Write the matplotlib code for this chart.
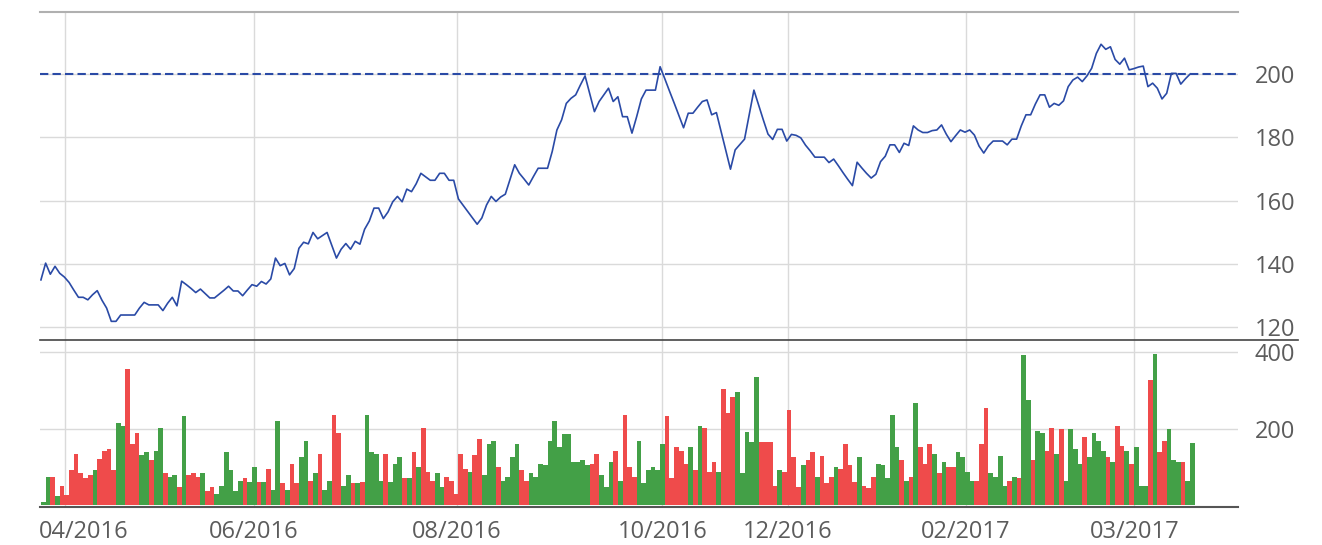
import numpy as np
import matplotlib
matplotlib.use("Agg")
import matplotlib.pyplot as plt
from matplotlib.lines import Line2D
from matplotlib.transforms import ScaledTranslation

plt.rcParams['font.family'] = ['Open Sans', 'DejaVu Sans']

# daily close, one value per trading day
close = [
    134.9, 140.2, 136.7, 139.2, 137.0, 135.8, 134.1, 131.7, 129.4, 129.4,
    128.6, 130.2, 131.5, 128.5, 126.0, 121.8, 121.8, 123.8, 123.8, 123.8,
    123.8, 126.0, 127.8, 127.0, 127.0, 127.0, 125.2, 127.5, 129.4, 126.7,
    134.5, 133.4, 132.2, 130.9, 132.0, 130.6, 129.2, 129.2, 130.4, 131.6,
    132.9, 131.4, 131.4, 129.9, 131.7, 133.4, 132.9, 134.4, 133.6, 135.2,
    141.8, 139.4, 140.1, 136.5, 138.5, 144.9, 146.8, 146.3, 149.9, 147.9,
    148.9, 149.9, 145.8, 141.8, 144.6, 146.4, 144.6, 147.1, 146.2, 150.9,
    153.5, 157.6, 157.6, 154.3, 156.4, 159.6, 161.3, 159.6, 163.6, 162.8,
    165.3, 168.6, 167.5, 166.4, 166.4, 168.6, 168.6, 166.4, 166.4, 160.5,
    158.5, 156.5, 154.5, 152.5, 154.5, 158.6, 161.3, 159.7, 161.1, 162.0,
    166.6, 171.3, 168.6, 166.8, 164.9, 167.6, 170.2, 170.2, 170.2, 175.5,
    182.3, 185.5, 190.7, 192.3, 193.4, 196.5, 199.4, 193.8, 188.1, 191.3,
    193.4, 195.5, 191.3, 192.8, 186.5, 186.5, 181.3, 186.5, 192.1, 194.9,
    194.9, 194.9, 202.3, 198.5, 194.6, 190.8, 186.9, 183.0, 187.6, 187.6,
    189.5, 191.3, 191.8, 187.1, 187.8, 181.8, 175.8, 169.9, 176.0, 177.7,
    179.4, 187.2, 194.9, 190.2, 185.5, 181.0, 179.3, 182.5, 182.5, 178.8,
    180.9, 180.6, 179.8, 177.5, 175.7, 173.7, 173.7, 173.7, 172.0, 173.1,
    171.0, 168.8, 166.7, 164.7, 172.1, 170.3, 168.6, 167.1, 168.3, 172.3,
    174.0, 177.6, 177.6, 175.2, 178.1, 177.4, 183.6, 182.3, 181.5, 181.5,
    182.1, 182.3, 183.9, 181.0, 178.6, 180.5, 182.3, 181.6, 182.3, 180.7,
    177.2, 175.0, 177.3, 178.8, 178.8, 178.8, 177.6, 179.4, 179.4, 183.6,
    187.1, 187.1, 190.5, 193.4, 193.4, 189.5, 190.7, 190.1, 191.5, 196.0,
    198.1, 199.0, 197.6, 199.4, 201.8, 206.5, 209.4, 207.8, 208.6, 204.6,
    203.1, 205.0, 201.3, 201.7, 202.2, 202.5, 196.0, 197.1, 195.5, 192.1,
    193.9, 200.2, 200.2, 196.8, 198.5, 200.0,
]

volume = [
    10, 73, 73, 24, 52, 26, 92, 134, 84, 71, 79, 92, 120, 141, 147, 92, 215, 207, 356, 160,
    189, 131, 139, 118, 141, 202, 84, 73, 79, 47, 233, 79, 84, 73, 84, 37, 47, 31, 52, 139,
    92, 37, 65, 71, 60, 100, 60, 60, 94, 39, 220, 58, 39, 107, 58, 126, 168, 65, 84, 134,
    39, 65, 236, 189, 52, 79, 58, 58,
    60, 236, 139, 134, 65, 134, 60, 107, 126, 71, 71, 139, 100, 202, 86, 65, 84, 47, 73, 65,
    31, 134, 94, 86, 131, 173, 79, 160, 168, 100, 65, 73, 126, 160, 92, 65, 84, 73, 107, 105,
    168, 220, 152, 186, 186, 113, 113, 118, 105, 107, 134, 79, 47, 113, 141, 63, 236, 100, 73, 168,
    58, 92, 100, 92,
    160, 233, 71, 152, 141, 107, 152, 92, 207, 202, 86, 113, 86, 304, 241, 283, 296, 84, 191, 165,
    335, 165, 165, 165, 52, 92, 86, 249, 126, 47, 105, 118, 139, 73, 128, 58, 73, 100, 94, 160,
    105, 60, 126, 52, 45, 73, 107, 105, 71, 236, 152, 118, 65, 73, 267, 152, 107, 160, 134, 84,
    113, 100, 100, 139,
    126, 86, 65, 65, 160, 254, 84, 73, 128, 52, 65, 73, 71, 393, 275, 118, 194, 189, 141, 202,
    134, 199, 65, 199, 147, 107, 178, 126, 189, 168, 141, 126, 113, 207, 155, 141, 107, 152, 52, 52,
    327, 395, 139, 168, 199, 118, 113, 113, 65, 162,
]

# 1 = up day (green), 0 = down day (red)
up = [
    1, 1, 0, 1, 0, 0, 0, 0, 0, 0, 0, 1, 0, 0, 0, 0, 1, 1, 0, 0,
    0, 1, 1, 0, 1, 1, 0, 1, 1, 0, 1, 0, 0, 0, 1, 0, 0, 1, 1, 1,
    1, 1, 1, 0, 1, 1, 0, 1, 0, 1, 1, 0, 1, 0, 0, 1, 1, 0, 1, 0,
    1, 1, 0, 0, 1, 1, 0, 1,
    0, 1, 1, 1, 1, 0, 1, 1, 1, 0, 1, 0, 1, 0, 0, 0, 1, 1, 0, 0,
    0, 0, 0, 1, 0, 0, 1, 1, 1, 0, 1, 1, 1, 1, 0, 0, 1, 1, 1, 1,
    1, 1, 1, 1, 1, 1, 1, 1, 1, 0, 0, 1, 1, 1, 0, 1, 0, 0, 0, 1,
    1, 1, 1, 1,
    1, 0, 0, 0, 0, 0, 1, 0, 1, 0, 0, 0, 1, 0, 0, 0, 1, 1, 1, 1,
    1, 0, 0, 0, 0, 1, 0, 0, 0, 0, 1, 0, 0, 1, 0, 0, 0, 1, 0, 0,
    0, 0, 1, 0, 0, 0, 1, 1, 1, 1, 1, 0, 1, 0, 1, 0, 0, 0, 1, 0,
    1, 0, 0, 1,
    1, 1, 1, 0, 0, 0, 1, 1, 1, 1, 0, 1, 0, 1, 1, 0, 1, 1, 0, 0,
    1, 0, 1, 1, 1, 1, 0, 1, 1, 1, 1, 0, 1, 0, 0, 1, 0, 1, 1, 1,
    0, 1, 0, 0, 1, 1, 1, 0, 1, 1,
]

month_labels = ['04/2016', '06/2016', '08/2016', '10/2016', '12/2016', '02/2017', '03/2017']
month_pos = [5.2, 45.4, 88.6, 132.5, 159.2, 197.2, 233.1]
reference_level = 200

price_ticks = [120, 140, 160, 180, 200]
volume_ticks = [200, 400]

line_blue = '#2a4aa6'
green = '#43a047'
red = '#ef4b4b'
grid_c = '#dadada'
text_c = '#5c5c5c'

W, H = 1322, 545
fig = plt.figure(figsize=(W / 100, H / 100), dpi=100)
left, right = 40 / W, 1238 / W
ax1 = fig.add_axes([left, 1 - 340 / H, right - left, (340 - 12) / H])
ax2 = fig.add_axes([left, 1 - 507 / H, right - left, (507 - 340) / H])

idx = np.arange(len(close))
xlim = (-0.2, 255.2)

# price panel
ax1.plot(idx, close, color=line_blue, lw=1.2, zorder=3)
ax1.axhline(reference_level, color=line_blue, lw=1.5, dashes=(4, 2), zorder=2)
ax1.set_xlim(*xlim)
ax1.set_ylim(115.9, 219.6)
ax1.set_yticks(price_ticks)
ax1.set_xticks(month_pos)
ax1.set_xticklabels([])
ax1.yaxis.tick_right()
ax1.tick_params(length=0, pad=12, labelsize=17, labelcolor=text_c)
ax1.grid(True, color=grid_c, lw=1)
ax1.set_axisbelow(True)
for s in ['left', 'right', 'bottom']:
    ax1.spines[s].set_visible(False)
ax1.spines['top'].set_color('#b0b0b0')
ax1.spines['top'].set_linewidth(1.5)

# volume panel
colors = [green if u else red for u in up]
ax2.bar(idx, volume, width=1.0, align='edge', color=colors, linewidth=0, zorder=3)
ax2.set_xlim(*xlim)
ax2.set_ylim(-4, 431)
ax2.set_yticks(volume_ticks)
ax2.set_xticks(month_pos)
ax2.set_xticklabels(month_labels)
ax2.yaxis.tick_right()
ax2.tick_params(length=0, labelsize=17, labelcolor=text_c)
ax2.tick_params(axis='y', pad=12)
ax2.tick_params(axis='x', pad=9)
ax2.grid(True, color=grid_c, lw=1)
ax2.set_axisbelow(True)
for s in ['left', 'right', 'top']:
    ax2.spines[s].set_visible(False)
ax2.spines['bottom'].set_color('#555555')
ax2.spines['bottom'].set_linewidth(1.5)

# first month label is pushed to start at the plot's left edge
first = ax2.get_xticklabels()[0]
first.set_ha('left')
first.set_transform(first.get_transform() + ScaledTranslation(-0.26, 0, fig.dpi_scale_trans))

# separator between the panels
fig.add_artist(Line2D([40 / W, 1298 / W], [1 - 340 / H] * 2, color='#444444', lw=1.2))

fig.savefig('out.png', dpi=100)
